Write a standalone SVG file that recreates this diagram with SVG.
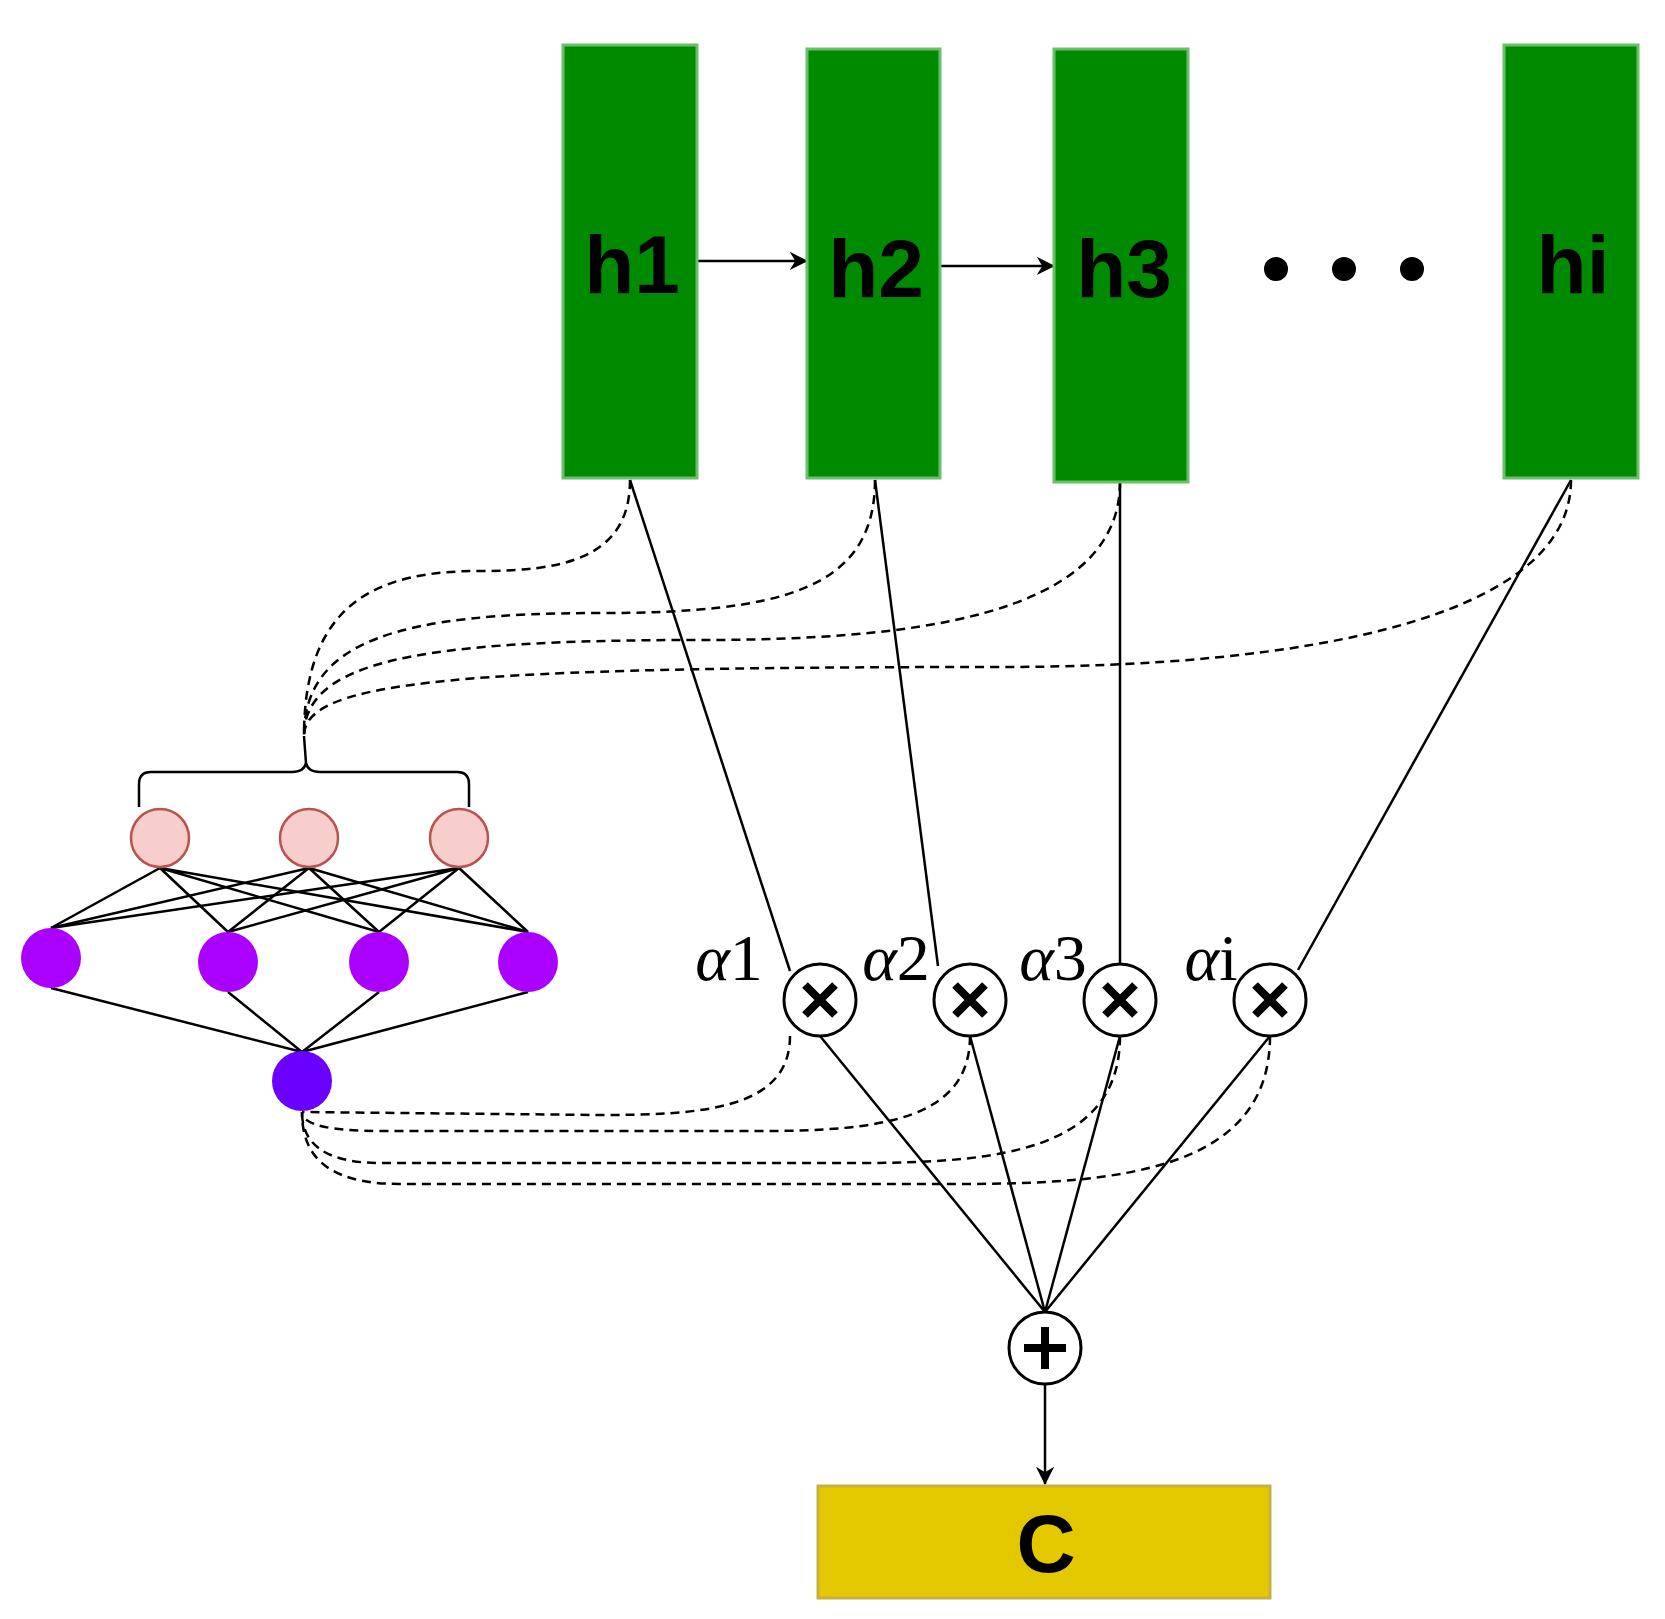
<svg xmlns="http://www.w3.org/2000/svg" width="1665" height="1619" viewBox="0 0 1665 1619">
<defs>
<style>
.h{fill:#008a00;stroke:#6abf6a;stroke-width:3}
.ht{font-family:"Liberation Sans",Arial,sans-serif;font-weight:bold;font-size:82px;fill:#000;text-anchor:middle}
.a{font-family:"Liberation Serif","Times New Roman",serif;font-size:66px;fill:#000;text-anchor:middle}
.op{fill:#fff;stroke:#000;stroke-width:3}
.ln{stroke:#000;stroke-width:2.5;fill:none}
.ds{stroke:#000;stroke-width:2.5;fill:none;stroke-dasharray:9,6}
.pk{fill:#f8cecc;stroke:#b85450;stroke-width:2.5}
.pu{fill:#aa00ff}
</style>
<marker id="ar" viewBox="0 0 10 10" refX="9" refY="5" markerWidth="7" markerHeight="7" orient="auto" markerUnits="userSpaceOnUse" style="overflow:visible"><path d="M0,0 L10,5 L0,10 L3,5 Z" fill="#000" transform="scale(2.6) translate(-6,-3.1)"/></marker>
</defs>
<rect width="1665" height="1619" fill="#fff"/>
<g id="connectors">
<path class="ds" d="M630,480 C630,560 560,571 480,571 C380,571 304,600 304,736"/>
<path class="ds" d="M875,480 C875,590 780,613 600,613 C400,613 304,640 304,736"/>
<path class="ds" d="M1120,482 C1120,620 900,640 700,640 C420,640 304,660 304,736"/>
<path class="ds" d="M1571,480 C1571,620 1300,667 1000,667 C460,667 304,680 304,736"/>
<path class="ds" d="M790,1036 C790,1110 700,1115 600,1115 L302,1112"/>
<path class="ds" d="M970,1036 C970,1120 880,1131 760,1131 L380,1131 C330,1131 302,1125 302,1112"/>
<path class="ds" d="M1120,1036 C1120,1150 1000,1163 860,1163 L380,1163 C320,1163 302,1140 302,1112"/>
<path class="ds" d="M1270,1036 C1270,1170 1120,1184 960,1184 L400,1184 C320,1184 302,1150 302,1112"/>
<line class="ln" x1="697" y1="261" x2="807" y2="261" marker-end="url(#ar)"/>
<line class="ln" x1="940" y1="266" x2="1054" y2="266" marker-end="url(#ar)"/>
<line class="ln" x1="630" y1="480" x2="790" y2="971"/>
<line class="ln" x1="875" y1="480" x2="938" y2="966"/>
<line class="ln" x1="1120" y1="482" x2="1120" y2="964"/>
<line class="ln" x1="1571" y1="480" x2="1298" y2="970"/>
<line class="ln" x1="820" y1="1036" x2="1045" y2="1312"/>
<line class="ln" x1="970" y1="1036" x2="1045" y2="1312"/>
<line class="ln" x1="1120" y1="1036" x2="1045" y2="1312"/>
<line class="ln" x1="1270" y1="1036" x2="1045" y2="1312"/>
<line class="ln" x1="1045" y1="1384" x2="1045" y2="1484" marker-end="url(#ar)"/>
<g class="ln">
<path d="M160,868 L51,928 M160,868 L228,932 M160,868 L379,932 M160,868 L528,932"/>
<path d="M309,868 L51,928 M309,868 L228,932 M309,868 L379,932 M309,868 L528,932"/>
<path d="M459,868 L51,928 M459,868 L228,932 M459,868 L379,932 M459,868 L528,932"/>
<path d="M51,988 L302,1052 M228,992 L302,1052 M379,992 L302,1052 M528,992 L302,1052"/>
<path d="M139,807 L139,784 Q139,772 151,772 L292,772 Q304,772 306,763 Q308,772 320,772 L457,772 Q469,772 469,784 L469,807"/>
<path d="M306,763 L304,736"/>
</g>
</g>
<g id="h1"><rect class="h" x="563" y="45" width="134" height="433"/><text class="ht" x="632" y="293">h1</text></g>
<g id="h2"><rect class="h" x="807" y="49" width="133" height="429"/><text class="ht" x="876" y="297">h2</text></g>
<g id="h3"><rect class="h" x="1054" y="49" width="134" height="433"/><text class="ht" x="1124" y="297">h3</text></g>
<g id="hi"><rect class="h" x="1504" y="45" width="134" height="433"/><text class="ht" x="1573" y="293">hi</text></g>
<g id="dots"><circle cx="1276" cy="269" r="12"/><circle cx="1344" cy="269" r="12"/><circle cx="1412" cy="269" r="12"/></g>
<g id="alphas">
<text class="a" x="729" y="980"><tspan font-style="italic">α</tspan>1</text>
<text class="a" x="896" y="980"><tspan font-style="italic">α</tspan>2</text>
<text class="a" x="1053" y="980"><tspan font-style="italic">α</tspan>3</text>
<text class="a" x="1211" y="980"><tspan font-style="italic">α</tspan>i</text>
</g>
<g id="m1"><circle class="op" cx="820" cy="1000" r="36"/><path d="M805,985 L835,1015 M835,985 L805,1015" stroke="#000" stroke-width="8"/></g>
<g id="m2"><circle class="op" cx="970" cy="1000" r="36"/><path d="M955,985 L985,1015 M985,985 L955,1015" stroke="#000" stroke-width="8"/></g>
<g id="m3"><circle class="op" cx="1120" cy="1000" r="36"/><path d="M1105,985 L1135,1015 M1135,985 L1105,1015" stroke="#000" stroke-width="8"/></g>
<g id="m4"><circle class="op" cx="1270" cy="1000" r="36"/><path d="M1255,985 L1285,1015 M1285,985 L1255,1015" stroke="#000" stroke-width="8"/></g>
<g id="plus"><circle class="op" cx="1045" cy="1348" r="36"/><path d="M1024,1348 L1066,1348 M1045,1327 L1045,1369" stroke="#000" stroke-width="8"/></g>
<g id="C"><rect x="818" y="1486" width="452" height="112" fill="#e3c800" stroke="#c8b040" stroke-width="3"/><text class="ht" x="1046" y="1572">C</text></g>
<g id="nn">
<circle class="pk" cx="160" cy="838" r="29"/><circle class="pk" cx="309" cy="838" r="29"/><circle class="pk" cx="459" cy="838" r="29"/>
<ellipse class="pu" cx="51" cy="958" rx="30" ry="30"/><ellipse class="pu" cx="228" cy="962" rx="30" ry="30"/><ellipse class="pu" cx="379" cy="962" rx="30" ry="30"/><ellipse class="pu" cx="528" cy="962" rx="30" ry="30"/>
<ellipse cx="302" cy="1081" rx="30" ry="30" fill="#6a00ff"/>
</g>
</svg>
